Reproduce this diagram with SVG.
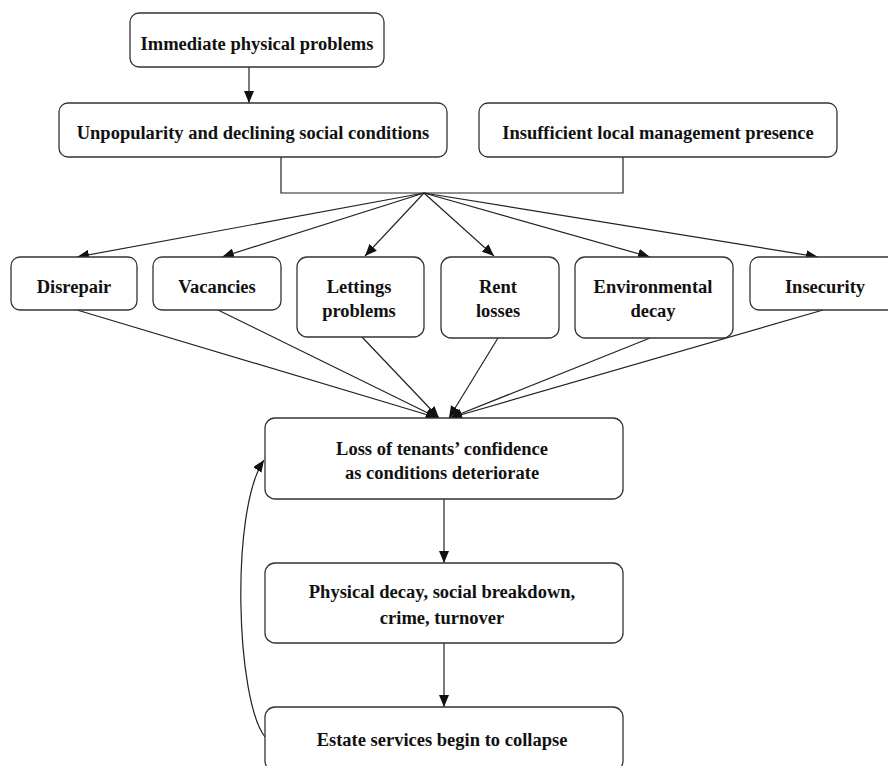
<svg xmlns="http://www.w3.org/2000/svg" width="888" height="766" viewBox="0 0 888 766">
<style>
.box{fill:#fff;stroke:#333;stroke-width:1.3}
.t{font-family:"Liberation Serif","Times New Roman",serif;font-weight:bold;font-size:18.5px;fill:#111;text-anchor:middle}
.c{fill:none;stroke:#222;stroke-width:1.2}
.a{marker-end:url(#ah)}
</style>
<defs>
<marker id="ah" markerUnits="userSpaceOnUse" markerWidth="12" markerHeight="10" viewBox="0 0 12 10" refX="12" refY="5" orient="auto">
<path d="M0,0 L12,5 L0,10 Z" fill="#111"/>
</marker>
</defs>
<rect width="888" height="766" fill="#fff"/>
<g id="connectors">
<line class="c a" x1="249" y1="67" x2="249" y2="103"/>
<polyline class="c" points="281,157 281,193 623,193 623,157"/>
<line class="c a" x1="424" y1="193" x2="77" y2="257"/>
<line class="c a" x1="424" y1="193" x2="222" y2="257"/>
<line class="c a" x1="424" y1="193" x2="365" y2="256"/>
<line class="c a" x1="424" y1="193" x2="494" y2="256"/>
<line class="c a" x1="424" y1="193" x2="650" y2="257"/>
<line class="c a" x1="424" y1="193" x2="818" y2="257"/>
<line class="c a" x1="77" y1="310" x2="438" y2="418"/>
<line class="c a" x1="218" y1="310" x2="438" y2="418"/>
<line class="c a" x1="362" y1="337" x2="439" y2="418"/>
<line class="c a" x1="498" y1="338" x2="449" y2="418"/>
<line class="c a" x1="650" y1="338" x2="450" y2="418"/>
<line class="c a" x1="823" y1="310" x2="450" y2="418"/>
<line class="c a" x1="444" y1="499" x2="444" y2="563"/>
<line class="c a" x1="444" y1="643" x2="444" y2="707"/>
<path class="c a" d="M265,737 C236,700 230,510 264,460"/>
</g>
<g id="n1"><rect class="box" x="130" y="13" width="254" height="54" rx="9"/><text class="t" x="257" y="50">Immediate physical problems</text></g>
<g id="n2"><rect class="box" x="59" y="103" width="388" height="54" rx="9"/><text class="t" x="253" y="139">Unpopularity and declining social conditions</text></g>
<g id="n3"><rect class="box" x="479" y="103" width="358" height="54" rx="9"/><text class="t" x="658" y="139">Insufficient local management presence</text></g>
<g id="n4"><rect class="box" x="11" y="257" width="126" height="53" rx="9"/><text class="t" x="74" y="293">Disrepair</text></g>
<g id="n5"><rect class="box" x="153" y="257" width="128" height="53" rx="9"/><text class="t" x="217" y="293">Vacancies</text></g>
<g id="n6"><rect class="box" x="297" y="257" width="127" height="80" rx="10"/><text class="t" x="359" y="293">Lettings</text><text class="t" x="359" y="317">problems</text></g>
<g id="n7"><rect class="box" x="441" y="257" width="118" height="81" rx="10"/><text class="t" x="498" y="293">Rent</text><text class="t" x="498" y="317">losses</text></g>
<g id="n8"><rect class="box" x="575" y="257" width="158" height="81" rx="10"/><text class="t" x="653" y="293">Environmental</text><text class="t" x="653" y="317">decay</text></g>
<g id="n9"><rect class="box" x="750" y="257" width="150" height="53" rx="9"/><text class="t" x="825" y="293">Insecurity</text></g>
<g id="n10"><rect class="box" x="265" y="418" width="358" height="81" rx="10"/><text class="t" x="442" y="455">Loss of tenants’ confidence</text><text class="t" x="442" y="479">as conditions deteriorate</text></g>
<g id="n11"><rect class="box" x="265" y="563" width="358" height="80" rx="10"/><text class="t" x="442" y="598">Physical decay, social breakdown,</text><text class="t" x="442" y="624">crime, turnover</text></g>
<g id="n12"><rect class="box" x="265" y="707" width="358" height="64" rx="10"/><text class="t" x="442" y="746">Estate services begin to collapse</text></g>
</svg>
